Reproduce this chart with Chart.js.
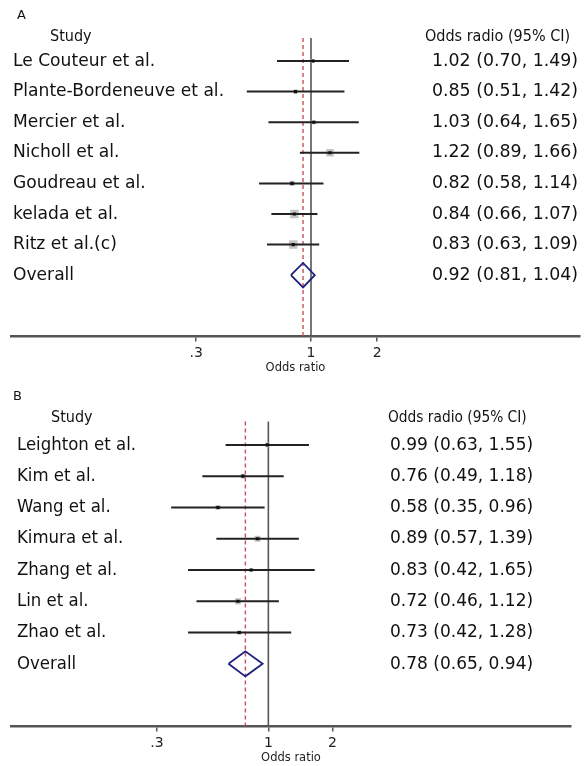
<!DOCTYPE html>
<html>
<head>
<meta charset="utf-8">
<script src="https://cdn.jsdelivr.net/npm/chart.js@4.4.1/dist/chart.umd.min.js"></script>
<style>
  html, body { margin: 0; padding: 0; background: #fff; }
  .panel { position: absolute; left: 0; width: 588px; height: 383px; }
</style>
</head>
<body>
<div class="panel" style="top:0"><canvas id="chartA"></canvas></div>
<div class="panel" style="top:383px"><canvas id="chartB"></canvas></div>
<script>
// panel A
const studiesA = ['Le Couteur et al.', 'Plante-Bordeneuve et al.', 'Mercier et al.', 'Nicholl et al.', 'Goudreau et al.', 'kelada et al.', 'Ritz et al.(c)'];
const orA   = [1.02, 0.85, 1.03, 1.22, 0.82, 0.84, 0.83];
const lowA  = [0.70, 0.51, 0.64, 0.89, 0.58, 0.66, 0.63];
const highA = [1.49, 1.42, 1.65, 1.66, 1.14, 1.07, 1.09];
const weightA = [6, 6, 6, 20, 10, 26, 26];   // % weight
const overallA = [0.92, 0.81, 1.04];

// panel B
const studiesB = ['Leighton et al.', 'Kim et al.', 'Wang et al.', 'Kimura et al.', 'Zhang et al.', 'Lin et al.', 'Zhao et al.'];
const orB   = [0.99, 0.76, 0.58, 0.89, 0.83, 0.72, 0.73];
const lowB  = [0.63, 0.49, 0.35, 0.57, 0.42, 0.46, 0.42];
const highB = [1.55, 1.18, 0.96, 1.39, 1.65, 1.12, 1.28];
const weightB = [13, 13, 13, 20, 6, 20, 10];
const overallB = [0.78, 0.65, 0.94];

const tickValues = [0.3, 1, 2];
const tickLabels = ['.3', '1', '2'];

const FONT = '"DejaVu Sans"';

function putText(ctx, text, x, y, size, sx) {
  ctx.save();
  ctx.font = size + 'px ' + FONT;
  ctx.fillStyle = '#111';
  ctx.textBaseline = 'middle';
  ctx.textAlign = 'left';
  ctx.translate(x, y);
  ctx.scale(sx, 1);
  ctx.fillText(text, 0, 0);
  ctx.restore();
}

function fmt(v) { return v.toFixed(2); }

function makeForest(canvasId, p) {
  const n = p.studies.length;
  const overallRow = n + 1;
  const maxW = Math.max(...p.weight);

  const ciLines = p.studies.map((s, i) => ({
    data: [{x: p.low[i], y: i + 1}, {x: p.high[i], y: i + 1}],
    showLine: true, borderColor: '#222', borderWidth: 2, pointRadius: 0, order: 3
  }));

  const o = p.overall;
  const h = 0.4;
  const datasets = [
    // null line at OR = 1
    { data: [{x: 1, y: 0.25}, {x: 1, y: 10}], showLine: true, borderColor: '#555', borderWidth: 1.6, pointRadius: 0, order: 6 },
    // pooled estimate line
    { data: [{x: o[0], y: 0.25}, {x: o[0], y: 10}], showLine: true, borderColor: '#c8505a', borderWidth: 1.4, borderDash: [4, 3], pointRadius: 0, order: 5 },
    // weight boxes
    { data: p.or.map((v, i) => ({x: v, y: i + 1})), pointStyle: 'rect',
      pointRadius: p.weight.map(w => p.boxMax * Math.sqrt(w / maxW) / Math.SQRT2),
      pointBackgroundColor: '#c4c4c4', pointBorderWidth: 0, order: 4 },
    ...ciLines,
    // overall diamond
    { data: [{x: o[1], y: overallRow}, {x: o[0], y: overallRow - h}, {x: o[2], y: overallRow}, {x: o[0], y: overallRow + h}, {x: o[1], y: overallRow}],
      showLine: true, borderColor: '#1f1f80', borderWidth: 1.8, pointRadius: 0, fill: false, order: 2 },
    // point estimates
    { data: p.or.map((v, i) => ({x: v, y: i + 1})), pointStyle: 'rect', pointRadius: 2.2,
      pointBackgroundColor: '#111', pointBorderWidth: 0, order: 1 }
  ];

  const textPlugin = {
    id: 'forestText',
    afterDraw(chart) {
      const ctx = chart.ctx;
      const y = chart.scales.y;
      putText(ctx, p.letter, p.letterX, p.letterY, 13, 1);
      putText(ctx, 'Study', p.studyX, y.getPixelForValue(p.headerRow), 16, 0.9);
      putText(ctx, 'Odds radio (95% CI)', p.ciHeadX, y.getPixelForValue(p.headerRow), 16, p.headSx);
      p.studies.forEach((s, i) => {
        const yy = y.getPixelForValue(i + 1);
        putText(ctx, s, p.nameX, yy, 18, p.nameSx);
        putText(ctx, `${fmt(p.or[i])} (${fmt(p.low[i])}, ${fmt(p.high[i])})`, p.valX, yy, 18, p.valSx);
      });
      const yo = y.getPixelForValue(overallRow);
      putText(ctx, 'Overall', p.nameX, yo, 18, p.nameSx);
      putText(ctx, `${fmt(o[0])} (${fmt(o[1])}, ${fmt(o[2])})`, p.valX, yo, 18, p.valSx);
    }
  };

  return new Chart(document.getElementById(canvasId), {
    type: 'scatter',
    data: { datasets },
    options: {
      responsive: true,
      maintainAspectRatio: false,
      animation: false,
      events: [],
      layout: { padding: p.pad },
      plugins: { legend: { display: false }, tooltip: { enabled: false } },
      scales: {
        x: {
          type: 'logarithmic', position: 'bottom', bounds: 'data',
          min: p.min, max: p.max,
          afterBuildTicks: s => { s.ticks = tickValues.map(v => ({value: v})); },
          ticks: { autoSkip: false, maxRotation: 0, padding: 4, color: '#222',
                   font: { family: FONT, size: 14 }, callback: (v, i) => tickLabels[i] },
          grid: { drawOnChartArea: false, drawTicks: true, tickLength: 5, color: '#555', lineWidth: 1.5 },
          border: { display: true, color: '#555', width: 2.5 },
          title: { display: true, text: 'Odds ratio', color: '#222',
                   font: { family: FONT, size: 11.5 }, padding: { top: -5, bottom: 0 } }
        },
        y: { type: 'linear', min: 0, max: 10, reverse: true, display: false }
      }
    },
    plugins: [textPlugin]
  });
}

makeForest('chartA', {
  letter: 'A', studies: studiesA, or: orA, low: lowA, high: highA, weight: weightA, overall: overallA,
  min: 0.043, max: 16.8, boxMax: 8.5,
  pad: { left: 11, right: 8, top: 30.4, bottom: 8 },
  letterX: 17, letterY: 16, studyX: 50, headerRow: 0.22, ciHeadX: 425, nameX: 13, valX: 432,
  nameSx: 0.95, headSx: 0.9, valSx: 0.965
});

makeForest('chartB', {
  letter: 'B', studies: studiesB, or: orB, low: lowB, high: highB, weight: weightB, overall: overallB,
  min: 0.062, max: 26.3, boxMax: 6,
  pad: { left: 11, right: 17, top: 30.6, bottom: 1 },
  letterX: 13, letterY: 14, studyX: 51, headerRow: 0.14, ciHeadX: 388, nameX: 17, valX: 390,
  nameSx: 0.92, headSx: 0.86, valSx: 0.945
});
</script>
</body>
</html>
